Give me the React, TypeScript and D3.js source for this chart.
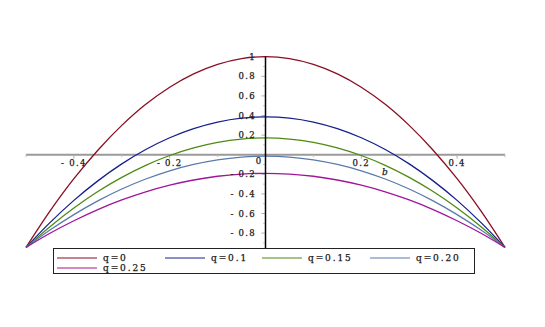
import React from "react";
import * as d3 from "d3";

const xs = [-0.5, -0.45, -0.4, -0.35, -0.3, -0.25, -0.2, -0.15, -0.1, -0.05, 0, 0.05, 0.1, 0.15, 0.2, 0.25, 0.3, 0.35, 0.4, 0.45, 0.5];

const q0 = [-0.946, -0.576, -0.245, 0.046, 0.299, 0.514, 0.689, 0.825, 0.922, 0.981, 1, 0.981, 0.922, 0.825, 0.689, 0.514, 0.299, 0.046, -0.245, -0.576, -0.946];
const q01 = [-0.946, -0.693, -0.466, -0.267, -0.094, 0.053, 0.173, 0.266, 0.333, 0.373, 0.386, 0.373, 0.333, 0.266, 0.173, 0.053, -0.094, -0.267, -0.466, -0.693, -0.946];
const q015 = [-0.946, -0.734, -0.544, -0.376, -0.231, -0.108, -0.008, 0.07, 0.126, 0.16, 0.171, 0.16, 0.126, 0.07, -0.008, -0.108, -0.231, -0.376, -0.544, -0.734, -0.946];
const q020 = [-0.946, -0.769, -0.611, -0.471, -0.35, -0.248, -0.164, -0.099, -0.052, -0.024, -0.015, -0.024, -0.052, -0.099, -0.164, -0.248, -0.35, -0.471, -0.611, -0.769, -0.946];
const q025 = [-0.946, -0.802, -0.674, -0.56, -0.462, -0.379, -0.311, -0.258, -0.22, -0.198, -0.19, -0.198, -0.22, -0.258, -0.311, -0.379, -0.462, -0.56, -0.674, -0.802, -0.946];

const seriesNames = ["q=0", "q=0.1", "q=0.15", "q=0.20", "q=0.25"];
const seriesValues = [q0, q01, q015, q020, q025];
const seriesColors = ["#8a0d22", "#16208c", "#4e8a12", "#5a7aac", "#a0169a"];

const xTickValues = [-0.4, -0.2, 0.2, 0.4];
const xTickLabels = ["- 0.4", "- 0.2", "0.2", "0.4"];
const yTickValues = [1, 0.8, 0.6, 0.4, 0.2, -0.2, -0.4, -0.6, -0.8];
const yTickLabels = ["1", "0.8", "0.6", "0.4", "0.2", "- 0.2", "- 0.4", "- 0.6", "- 0.8"];
const minorTicks = [-0.9, -0.7, -0.5, -0.3, -0.1, 0.1, 0.3, 0.5, 0.7, 0.9];
const xMinorTicks = [-0.5, -0.3, -0.1, 0.1, 0.3, 0.5];

export default function App() {
  const W = 545, H = 327;
  const x = d3.scaleLinear().domain([-0.5, 0.5]).range([26, 505]);
  const y = d3.scaleLinear().domain([-0.955, 1]).range([248.3, 56.7]);
  const line = d3
    .line<number>()
    .x((_, i) => x(xs[i]))
    .y((d) => y(d))
    .curve(d3.curveCatmullRom.alpha(0.5));

  const axisY = y(0);
  const axisX = x(0);
  const font = "'DejaVu Serif', serif";
  const textStyle = { stroke: "#222", strokeWidth: 0.25 };

  const legendPos = [
    { lx: 57, ly: 258 },
    { lx: 165, ly: 258 },
    { lx: 262, ly: 258 },
    { lx: 370, ly: 258 },
    { lx: 57, ly: 268 },
  ];

  return (
    <svg width={W} height={H} style={{ position: "absolute", left: 0, top: 0, background: "#fff" }}>
      <line x1={x(-0.5)} x2={x(0.5)} y1={axisY} y2={axisY} stroke="#9a9a9a" strokeWidth={2} />
      {xTickValues.map((v) => (
        <line key={"xt" + v} x1={x(v)} x2={x(v)} y1={axisY} y2={axisY + 4} stroke="#b0b0b0" strokeWidth={1} />
      ))}
      {xMinorTicks.map((v) => (
        <line key={"xm" + v} x1={x(v)} x2={x(v)} y1={axisY} y2={axisY + 2.5} stroke="#c0c0c0" strokeWidth={1} />
      ))}
      {xTickValues.map((v, i) => (
        <text key={"xl" + v} x={x(v)} y={axisY + 11} textAnchor="middle" fontFamily={font} fontSize={8.5} letterSpacing={1.3} fill="#111" style={textStyle}>
          {xTickLabels[i]}
        </text>
      ))}
      {yTickValues.map((v) => (
        <line key={"yt" + v} x1={axisX - 4} x2={axisX} y1={y(v)} y2={y(v)} stroke="#b0b0b0" strokeWidth={1} />
      ))}
      {minorTicks.map((v) => (
        <line key={"ym" + v} x1={axisX - 2.5} x2={axisX} y1={y(v)} y2={y(v)} stroke="#c8c8c8" strokeWidth={1} />
      ))}
      {seriesValues.map((vals, i) => (
        <path key={"s" + i} d={line(vals) || ""} fill="none" stroke={seriesColors[i]} strokeWidth={1.3} />
      ))}
      <line x1={axisX} x2={axisX} y1={y(1)} y2={y(-0.955)} stroke="#000" strokeWidth={1.5} />
      {yTickValues.map((v, i) => (
        <text key={"yl" + v} x={axisX - 9.5} y={y(v) + 3} textAnchor="end" fontFamily={font} fontSize={8.5} letterSpacing={1.3} fill="#111" style={textStyle}>
          {yTickLabels[i]}
        </text>
      ))}
      <text x={axisX - 7} y={axisY + 9.5} textAnchor="middle" fontFamily={font} fontSize={8.5} fill="#111" style={textStyle}>0</text>
      <text x={385} y={175} textAnchor="middle" fontFamily={font} fontStyle="italic" fontSize={9} fill="#111" style={textStyle}>b</text>
      <rect x={53.5} y={248.5} width={421} height={25} fill="#fff" stroke="#222" strokeWidth={1} />
      {seriesNames.map((n, i) => (
        <g key={"lg" + i}>
          <line x1={legendPos[i].lx} x2={legendPos[i].lx + 40} y1={legendPos[i].ly} y2={legendPos[i].ly} stroke={seriesColors[i]} strokeWidth={1.2} />
          <text x={legendPos[i].lx + 46} y={legendPos[i].ly + 3} fontFamily={font} fontSize={9} letterSpacing={1.9} fill="#111" style={textStyle}>
            {n}
          </text>
        </g>
      ))}
    </svg>
  );
}
